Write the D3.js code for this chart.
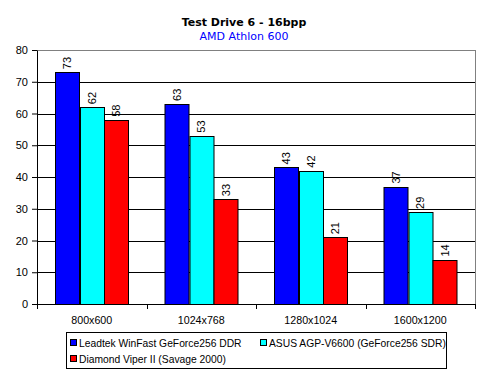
<!DOCTYPE html>
<html>
<head>
<meta charset="utf-8">
<script src="https://cdn.jsdelivr.net/npm/d3@7"></script>
<style>
  body { margin: 0; background: #fff; }
  text { font-family: "Liberation Sans", Arial, sans-serif; font-size: 11px; }
</style>
</head>
<body>
<svg id="chart" width="490" height="377"></svg>
<script>
// Chart data
const categories = ["800x600", "1024x768", "1280x1024", "1600x1200"];
const seriesNames = ["Leadtek WinFast GeForce256 DDR", "ASUS AGP-V6600 (GeForce256 SDR)", "Diamond Viper II (Savage 2000)"];
const seriesColors = ["#0000ff", "#00ffff", "#ff0000"];
const leadtek = [73, 63, 43, 37];
const asus = [62, 53, 42, 29];
const diamond = [58, 33, 21, 14];
const yTicks = [0, 10, 20, 30, 40, 50, 60, 70, 80];

const seriesValues = [leadtek, asus, diamond];

const margin = { top: 50, right: 15, bottom: 73, left: 37 };
const width = 490 - margin.left - margin.right;
const height = 377 - margin.top - margin.bottom;

const svg = d3.select("#chart");

// Title
svg.append("text")
    .attr("x", 244)
    .attr("y", 26)
    .attr("text-anchor", "middle")
    .style("font-family", "'DejaVu Sans', sans-serif")
    .style("font-weight", "bold")
    .style("font-size", "11px")
    .text("Test Drive 6 - 16bpp");

svg.append("text")
    .attr("x", 244)
    .attr("y", 40)
    .attr("text-anchor", "middle")
    .attr("fill", "#0000ff")
    .style("font-family", "'DejaVu Sans', sans-serif")
    .style("font-size", "11px")
    .text("AMD Athlon 600");

const g = svg.append("g")
    .attr("transform", "translate(" + margin.left + "," + margin.top + ")");

// Scales
const x = d3.scaleBand()
    .domain(categories)
    .range([0, width])
    .paddingInner(0)
    .paddingOuter(0);

const xInner = d3.scaleBand()
    .domain(d3.range(seriesNames.length))
    .range([0, x.bandwidth()])
    .paddingInner(0)
    .paddingOuter(0.75);

const y = d3.scaleLinear()
    .domain([0, 80])
    .range([height, 0]);

// Plot area border (gray)
g.append("rect")
    .attr("x", 0.5)
    .attr("y", 0.5)
    .attr("width", width)
    .attr("height", height)
    .attr("fill", "none")
    .attr("stroke", "#808080");

// Gridlines
g.selectAll(".grid")
    .data(yTicks.filter(d => d > 0 && d < 80))
    .enter().append("line")
    .attr("x1", 0)
    .attr("x2", width)
    .attr("y1", d => Math.round(y(d)) + 0.5)
    .attr("y2", d => Math.round(y(d)) + 0.5)
    .attr("stroke", "#000");

// Bars
const groups = g.selectAll(".group")
    .data(categories)
    .enter().append("g")
    .attr("transform", d => "translate(" + x(d) + ",0)");

groups.selectAll("rect")
    .data((d, i) => seriesValues.map((s, k) => ({ k: k, v: s[i] })))
    .enter().append("rect")
    .attr("x", d => Math.round(xInner(d.k)) + 0.5)
    .attr("width", Math.round(xInner.bandwidth()))
    .attr("y", d => Math.round(y(d.v)) + 0.5)
    .attr("height", d => Math.round(height - y(d.v)))
    .attr("fill", d => seriesColors[d.k])
    .attr("stroke", "#000");

// Value labels (rotated)
groups.selectAll(".val")
    .data((d, i) => seriesValues.map((s, k) => ({ k: k, v: s[i] })))
    .enter().append("text")
    .attr("transform", d => "translate(" + (xInner(d.k) + xInner.bandwidth() / 2 + 4) + "," + (y(d.v) - 3) + ") rotate(-90)")
    .attr("text-anchor", "start")
    .text(d => d.v);

// Y axis
const yAxis = g.append("g")
    .call(d3.axisLeft(y).tickValues(yTicks).tickSize(5).tickSizeOuter(0).tickPadding(4));
yAxis.select(".domain").attr("stroke", "#000");
yAxis.selectAll("text").style("font-size", "11px").attr("fill", "#000");

// X axis
const xAxis = g.append("g")
    .attr("transform", "translate(0," + height + ")")
    .call(d3.axisBottom(x).tickSize(0).tickPadding(12));
xAxis.select(".domain").attr("stroke", "#000");
xAxis.selectAll("text").style("font-size", "10.7px").attr("fill", "#000");

// X axis boundary ticks
g.selectAll(".xtick")
    .data(d3.range(categories.length + 1))
    .enter().append("line")
    .attr("x1", i => Math.round(i * x.bandwidth()) + 0.5)
    .attr("x2", i => Math.round(i * x.bandwidth()) + 0.5)
    .attr("y1", height)
    .attr("y2", height + 5)
    .attr("stroke", "#000");

// Legend
const legend = svg.append("g").attr("transform", "translate(66,332)");
legend.append("rect")
    .attr("x", 0.5)
    .attr("y", 0.5)
    .attr("width", 380)
    .attr("height", 36)
    .attr("fill", "#fff")
    .attr("stroke", "#000");

const legendPos = [[4, 7], [194, 7], [4, 23]];
const items = legend.selectAll(".item")
    .data(seriesNames)
    .enter().append("g")
    .attr("transform", (d, i) => "translate(" + legendPos[i][0] + "," + legendPos[i][1] + ")");

items.append("rect")
    .attr("x", 0.5)
    .attr("y", 0.5)
    .attr("width", 6)
    .attr("height", 6)
    .attr("fill", (d, i) => seriesColors[i])
    .attr("stroke", "#000");

items.append("text")
    .attr("x", 9)
    .attr("y", 8)
    .style("font-size", "10.3px")
    .text(d => d);
</script>
</body>
</html>
